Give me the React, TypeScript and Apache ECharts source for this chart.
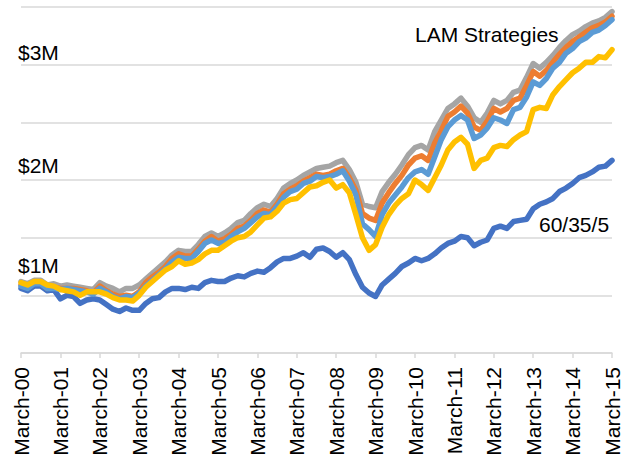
import React, { useEffect, useRef } from "react";
import * as echarts from "echarts";

// Bimonthly points from March 2000 to March 2015 (values in $M)
const monthNames = ["March", "May", "July", "September", "November", "January"];
const yearCount = 15;

const balanced60355 = [
  1.06, 1.04, 1.08, 1.08, 1.04, 1.05, 0.97, 1.0, 0.99, 0.93,
  0.96, 0.97, 0.96, 0.92, 0.88, 0.86, 0.89, 0.87, 0.87, 0.93,
  0.97, 0.98, 1.03, 1.06, 1.06, 1.05, 1.07, 1.06, 1.11, 1.13,
  1.12, 1.12, 1.15, 1.17, 1.16, 1.19, 1.21, 1.2, 1.24, 1.29,
  1.32, 1.32, 1.34, 1.37, 1.33, 1.4, 1.41, 1.38, 1.33, 1.37,
  1.31, 1.18, 1.07, 1.02, 0.99, 1.09, 1.14, 1.19, 1.25, 1.28,
  1.32, 1.3, 1.32, 1.36, 1.41, 1.45, 1.47, 1.51, 1.5, 1.43,
  1.46, 1.48, 1.58, 1.6, 1.58, 1.64, 1.65, 1.66, 1.75, 1.79,
  1.81, 1.84, 1.9, 1.93, 1.97, 2.02, 2.04, 2.07, 2.11, 2.12,
  2.17,
];

const lamGray = [
  1.12, 1.1, 1.13, 1.13, 1.09, 1.1, 1.08, 1.09, 1.08, 1.07,
  1.06, 1.05, 1.11, 1.08, 1.06, 1.03, 1.06, 1.06, 1.09, 1.14,
  1.19, 1.24, 1.29, 1.35, 1.39, 1.38, 1.38, 1.44, 1.51, 1.54,
  1.51, 1.54, 1.58, 1.63, 1.65, 1.71, 1.76, 1.79, 1.77, 1.84,
  1.93, 1.97, 2.0, 2.04, 2.07, 2.1, 2.11, 2.12, 2.15, 2.17,
  2.09, 1.98, 1.79, 1.77, 1.76, 1.9, 1.98, 2.05, 2.13, 2.22,
  2.28, 2.3, 2.26, 2.42, 2.52, 2.62, 2.66, 2.71, 2.64, 2.54,
  2.5, 2.58, 2.69, 2.66, 2.69, 2.76, 2.78, 2.89, 3.01, 2.97,
  3.02, 3.08, 3.15, 3.21, 3.26, 3.29, 3.33, 3.36, 3.38, 3.41,
  3.46,
];

const lamOrange = [
  1.09, 1.07, 1.11, 1.11, 1.06, 1.07, 1.06, 1.06, 1.06, 1.05,
  1.04, 1.02, 1.08, 1.04, 1.01, 0.99, 1.0, 0.99, 1.03, 1.11,
  1.16, 1.2, 1.25, 1.32, 1.36, 1.34, 1.34, 1.4, 1.47, 1.51,
  1.47, 1.49, 1.53, 1.58, 1.6, 1.65, 1.71, 1.74, 1.72, 1.79,
  1.88, 1.92, 1.95, 1.99, 2.02, 2.05, 2.04, 2.05, 2.08, 2.1,
  2.02, 1.91, 1.71, 1.67, 1.65, 1.8, 1.89, 1.97, 2.04, 2.13,
  2.19, 2.21, 2.17, 2.32, 2.43, 2.55, 2.59, 2.64, 2.58, 2.46,
  2.43, 2.51, 2.62, 2.59, 2.62, 2.69, 2.71, 2.82, 2.94, 2.9,
  2.95, 3.02, 3.09, 3.15, 3.2, 3.24, 3.28, 3.32, 3.34, 3.37,
  3.42,
];

const lamLightBlue = [
  1.08, 1.06, 1.1, 1.1, 1.06, 1.06, 1.05, 1.06, 1.05, 1.04,
  1.03, 1.01, 1.06, 1.03, 0.99, 0.97, 0.99, 0.98, 1.02, 1.08,
  1.13, 1.18, 1.23, 1.29, 1.33, 1.32, 1.32, 1.38, 1.45, 1.48,
  1.45, 1.46, 1.51, 1.55, 1.58, 1.63, 1.68, 1.71, 1.7, 1.77,
  1.85, 1.9, 1.92, 1.97, 1.99, 2.03, 2.02, 2.03, 2.05, 2.08,
  1.99, 1.87, 1.62, 1.57, 1.51, 1.7, 1.8, 1.87, 1.94, 2.02,
  2.07, 2.09, 2.05, 2.2, 2.35, 2.46, 2.52, 2.56, 2.52, 2.36,
  2.39, 2.45, 2.54, 2.52, 2.49, 2.61, 2.63, 2.72, 2.85, 2.82,
  2.88, 2.97, 3.02, 3.1, 3.14, 3.2, 3.23, 3.28, 3.3, 3.34,
  3.39,
];

const lamYellow = [
  1.11, 1.09, 1.12, 1.12, 1.09, 1.08, 1.05, 1.04, 1.03, 1.0,
  1.03, 1.03, 1.03, 1.01, 0.98, 0.96, 0.96, 0.95, 1.0, 1.07,
  1.12, 1.17, 1.22, 1.25, 1.3, 1.27, 1.28, 1.31, 1.36, 1.39,
  1.39, 1.43, 1.47, 1.5, 1.51, 1.55, 1.61, 1.67, 1.68, 1.73,
  1.8, 1.83, 1.84, 1.89, 1.94, 1.95, 1.98, 2.0, 1.93, 1.96,
  1.89, 1.7, 1.5, 1.39, 1.44, 1.59, 1.7, 1.78, 1.84, 1.88,
  2.0, 1.96, 1.91, 2.02, 2.13, 2.26, 2.33, 2.37, 2.31, 2.1,
  2.17, 2.19, 2.28, 2.3, 2.29, 2.35, 2.39, 2.42, 2.61, 2.63,
  2.62, 2.74, 2.81, 2.87, 2.93, 2.97, 3.02, 3.02, 3.07, 3.06,
  3.13,
];

const categories: string[] = [];
for (let y = 0; y < yearCount; y++) {
  for (let j = 0; j < monthNames.length; j++) {
    const yr = j === 5 ? y + 1 : y;
    categories.push(`${monthNames[j]}-${String(yr).padStart(2, "0")}`);
  }
}
categories.push(`March-${String(yearCount).padStart(2, "0")}`);

const FONT = '"Liberation Sans", Arial, sans-serif';

export default function App() {
  const ref = useRef<HTMLDivElement>(null);
  useEffect(() => {
    if (!ref.current) return;
    const chart = echarts.init(ref.current, undefined, { renderer: "svg" });
    const lineSeries = (name: string, data: number[], color: string) => ({
      name,
      type: "line",
      data,
      showSymbol: false,
      symbol: "none",
      smooth: false,
      lineStyle: { color, width: 5.5, cap: "round", join: "round" },
      itemStyle: { color },
    });
    chart.setOption({
      animation: false,
      backgroundColor: "#ffffff",
      grid: { left: 21, right: 17, top: 7, bottom: 116, containLabel: false },
      xAxis: {
        type: "category",
        data: categories,
        boundaryGap: false,
        axisLine: { show: true, lineStyle: { color: "#d9d9d9", width: 1.5 } },
        axisTick: { show: true, interval: 5, length: 5, lineStyle: { color: "#d9d9d9", width: 1.5 } },
        axisLabel: {
          interval: 5,
          rotate: 90,
          margin: 14,
          color: "#000",
          fontSize: 21,
          fontFamily: FONT,
        },
        splitLine: { show: false },
      },
      yAxis: {
        type: "value",
        min: 0.5,
        max: 3.5,
        interval: 0.5,
        axisLabel: { show: false },
        axisLine: { show: false },
        axisTick: { show: false },
        splitLine: { show: true, lineStyle: { color: "#d9d9d9", width: 1.5 } },
      },
      series: [
        lineSeries("60/35/5", balanced60355, "#4472C4"),
        lineSeries("LAM Strategy A", lamGray, "#A5A5A5"),
        lineSeries("LAM Strategy B", lamOrange, "#ED7D31"),
        lineSeries("LAM Strategy C", lamLightBlue, "#5B9BD5"),
        lineSeries("LAM Strategy D", lamYellow, "#FFC000"),
      ],
      graphic: [
        { type: "text", x: 18, y: 52, z: 100, style: { text: "$3M", font: `21px ${FONT}`, fill: "#000", align: "left", verticalAlign: "middle" } },
        { type: "text", x: 18, y: 165, z: 100, style: { text: "$2M", font: `21px ${FONT}`, fill: "#000", align: "left", verticalAlign: "middle" } },
        { type: "text", x: 18, y: 265, z: 100, style: { text: "$1M", font: `21px ${FONT}`, fill: "#000", align: "left", verticalAlign: "middle" } },
        { type: "text", x: 415, y: 34, z: 100, style: { text: "LAM Strategies", font: `21px ${FONT}`, fill: "#000", align: "left", verticalAlign: "middle" } },
        { type: "text", x: 539, y: 224, z: 100, style: { text: "60/35/5", font: `21px ${FONT}`, fill: "#000", align: "left", verticalAlign: "middle" } },
      ],
    });
    return () => chart.dispose();
  }, []);
  return (
    <div
      ref={ref}
      style={{ position: "fixed", left: 0, top: 0, width: 629, height: 469, background: "#fff" }}
    />
  );
}
